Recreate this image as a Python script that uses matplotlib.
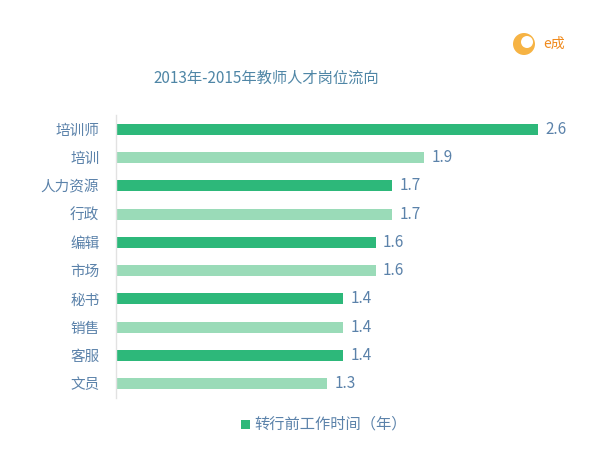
import matplotlib
matplotlib.use("Agg")
import matplotlib.pyplot as plt
from matplotlib.patches import Rectangle, Ellipse

plt.rcParams['font.family'] = ['Noto Sans CJK SC', 'DejaVu Sans']

categories = ["培训师", "培训", "人力资源", "行政", "编辑", "市场", "秘书", "销售", "客服", "文员"]
values = [2.6, 1.9, 1.7, 1.7, 1.6, 1.6, 1.4, 1.4, 1.4, 1.3]
title = "2013年-2015年教师人才岗位流向"
legend_label = "转行前工作时间（年）"

dark = "#2DB87A"
light = "#9ADBB8"
text_color = "#5B82AA"

fig = plt.figure(figsize=(6.0, 4.69), dpi=100)
ax = fig.add_axes([116/600, 1 - 398/469, (580 - 116)/600, 283/469])

colors = [dark if i % 2 == 0 else light for i in range(len(categories))]
ypos = list(range(len(categories)))
ax.barh(ypos, values, height=0.39, color=colors)
ax.set_ylim(len(categories) - 0.5, -0.5)
ax.set_xlim(0, (580 - 116) / 162.3)

for y, v in zip(ypos, values):
    ax.text(v + 0.045, y, f"{v:.1f}", va="center", ha="left", fontsize=11, color=text_color)

ax.set_yticks(ypos)
ax.set_yticklabels(categories, fontsize=10.5, color=text_color)
ax.tick_params(axis="y", length=0, pad=12)
ax.set_xticks([])
for s in ["top", "right", "bottom"]:
    ax.spines[s].set_visible(False)
ax.spines["left"].set_color("#E2E2E2")
ax.spines["left"].set_linewidth(1)

fig.text(266/600, 1 - 78/469, title, ha="center", va="center", fontsize=11, color="#4F86A6")

# legend
fig.patches.append(Rectangle((241/600, 1 - 429/469), 9/600, 9/469, transform=fig.transFigure,
                             facecolor=dark, edgecolor="none"))
fig.text(254/600, 1 - 424/469, legend_label, ha="left", va="center", fontsize=11, color=text_color)

# logo
fig.patches.append(Ellipse((524/600, 1 - 44/469), 22/600, 22/469, transform=fig.transFigure,
                           facecolor="#F5A623", edgecolor="none", alpha=0.85))
fig.patches.append(Ellipse((527/600, 1 - 42/469), 12/600, 12/469, transform=fig.transFigure,
                           facecolor="white", edgecolor="none"))
fig.text(554/600, 1 - 44/469, "e成", ha="center", va="center", fontsize=10, color="#F08A1C")

fig.savefig("out.png", dpi=100)
